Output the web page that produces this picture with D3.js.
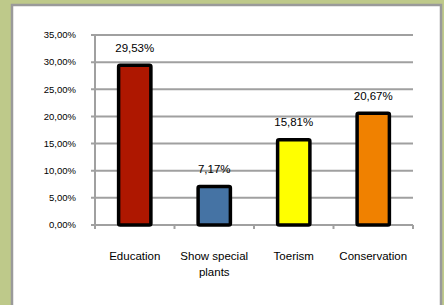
<!DOCTYPE html>
<html>
<head>
<meta charset="utf-8">
<script src="https://cdn.jsdelivr.net/npm/d3@7"></script>
<style>
  body { margin: 0; background: #bec98a; }
  svg { display: block; }
  text { font-family: "Liberation Sans", Arial, sans-serif; fill: #000; }
</style>
</head>
<body>
<svg id="chart" width="444" height="305"></svg>
<script>
// Chart data
const categories = ["Education", "Show special|plants", "Toerism", "Conservation"];
const values = [29.53, 7.17, 15.81, 20.67];
const colors = ["#ae1700", "#4573a4", "#ffff00", "#f08100"];
const yTicks = [0, 5, 10, 15, 20, 25, 30, 35];

const svg = d3.select("#chart");
const fmt = v => v.toFixed(2).replace(".", ",") + "%";

// white panel with grey frame
svg.append("rect")
    .attr("x", 12).attr("y", 5)
    .attr("width", 429).attr("height", 310)
    .attr("fill", "#fff")
    .attr("stroke", "#9a9a9a")
    .attr("stroke-width", 2.5);

const x = d3.scaleBand()
    .domain(categories)
    .range([95, 413])
    .paddingInner(0.55)
    .paddingOuter(0.275);

const y = d3.scaleLinear()
    .domain([0, 35])
    .range([225, 35]);

// gridlines
svg.append("g")
    .selectAll("line")
    .data(yTicks)
    .join("line")
    .attr("x1", 91).attr("x2", 413)
    .attr("y1", d => y(d)).attr("y2", d => y(d))
    .attr("stroke", "#a0a0a0")
    .attr("stroke-width", 2);

// y axis line
svg.append("line")
    .attr("x1", 95).attr("x2", 95)
    .attr("y1", y(35)).attr("y2", y(0) + 4)
    .attr("stroke", "#a0a0a0")
    .attr("stroke-width", 2);

// y tick labels
svg.append("g")
    .selectAll("text")
    .data(yTicks)
    .join("text")
    .attr("x", 76)
    .attr("y", d => y(d))
    .attr("dy", "0.35em")
    .attr("text-anchor", "end")
    .attr("font-size", 9.5)
    .text(d => fmt(d));

// x category ticks
const step = (x.range()[1] - x.range()[0]) / categories.length;
svg.append("g")
    .selectAll("line")
    .data(d3.range(1, categories.length + 1))
    .join("line")
    .attr("x1", d => 95 + d * step).attr("x2", d => 95 + d * step)
    .attr("y1", y(0)).attr("y2", y(0) + 4)
    .attr("stroke", "#a0a0a0")
    .attr("stroke-width", 2);

// bars
svg.append("g")
    .selectAll("rect")
    .data(categories)
    .join("rect")
    .attr("x", d => x(d) + 1.75)
    .attr("y", (d, i) => y(values[i]) + 0.5)
    .attr("width", x.bandwidth() - 3.5)
    .attr("height", (d, i) => y(0) - y(values[i]) - 0.5)
    .attr("rx", 1.5)
    .attr("fill", (d, i) => colors[i])
    .attr("stroke", "#000")
    .attr("stroke-width", 3.5);

// value labels
svg.append("g")
    .selectAll("text")
    .data(categories)
    .join("text")
    .attr("x", d => x(d) + x.bandwidth() / 2)
    .attr("y", (d, i) => y(values[i]) - 13)
    .attr("text-anchor", "middle")
    .attr("font-size", 11.5)
    .text((d, i) => fmt(values[i]));

// category labels
svg.append("g")
    .selectAll("text")
    .data(categories)
    .join("text")
    .attr("x", d => x(d) + x.bandwidth() / 2)
    .attr("y", 260)
    .attr("text-anchor", "middle")
    .attr("font-size", 11.5)
    .each(function(d) {
        const t = d3.select(this);
        d.split("|").forEach((line, i) => {
            t.append("tspan")
                .attr("x", x(d) + x.bandwidth() / 2)
                .attr("dy", i === 0 ? 0 : 16)
                .text(line);
        });
    });
</script>
</body>
</html>
